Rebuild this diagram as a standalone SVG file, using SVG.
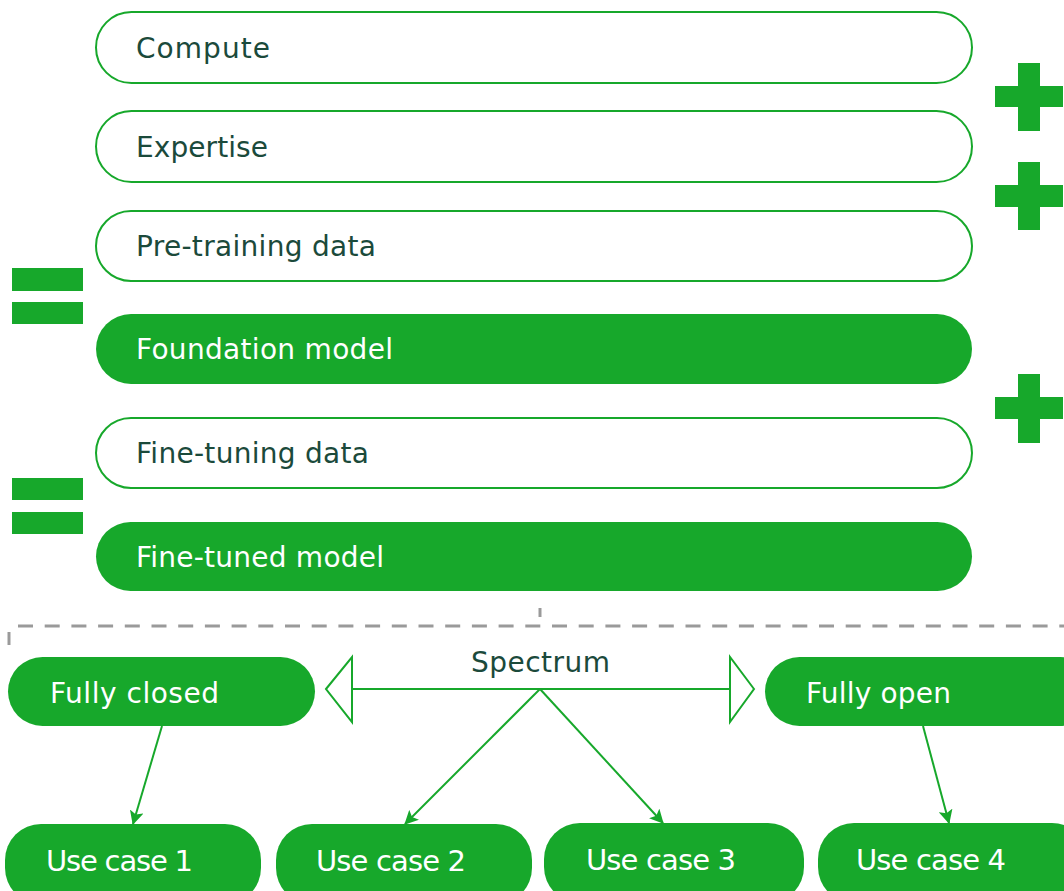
<svg xmlns="http://www.w3.org/2000/svg" width="1064" height="891" viewBox="0 0 1064 891">
  <defs>
    <style>
      .outline { fill: #ffffff; stroke: #17a82b; stroke-width: 2; }
      .solid { fill: #17a82b; }
      .lbl { font-family: "DejaVu Sans", "Liberation Sans", sans-serif; font-size: 28px; }
      .big { font-size: 29px; }
      .dark { fill: #1b4a3b; }
      .light { fill: #ffffff; }
      .conn { stroke: #17a82b; stroke-width: 2; fill: none; }
      .head { stroke: #17a82b; stroke-width: 2; fill: #ffffff; }
      .dash { stroke: #9a9a9a; stroke-width: 3; fill: none; }
      .sym { fill: #17a82b; }
    </style>
    <marker id="arrow" viewBox="0 0 14 14" refX="13" refY="7" markerWidth="14" markerHeight="14" markerUnits="userSpaceOnUse" orient="auto">
      <path d="M0,0 L14,7 L0,14 L3,7 Z" fill="#17a82b"/>
    </marker>
  </defs>

  <!-- stacked ingredients -->
  <g id="compute">
    <rect class="outline" x="96" y="12" width="876" height="71" rx="35.5"/>
    <text class="lbl dark" x="136" y="58" textLength="134" lengthAdjust="spacing">Compute</text>
  </g>
  <g id="expertise">
    <rect class="outline" x="96" y="111" width="876" height="71" rx="35.5"/>
    <text class="lbl dark" x="136" y="157" textLength="132" lengthAdjust="spacing">Expertise</text>
  </g>
  <g id="pretraining-data">
    <rect class="outline" x="96" y="211" width="876" height="70" rx="35"/>
    <text class="lbl dark" x="136" y="256" textLength="240" lengthAdjust="spacing">Pre-training data</text>
  </g>
  <g id="foundation-model">
    <rect class="solid" x="96" y="314" width="876" height="70" rx="35"/>
    <text class="lbl light" x="136" y="359" textLength="257" lengthAdjust="spacing">Foundation model</text>
  </g>
  <g id="finetuning-data">
    <rect class="outline" x="96" y="418" width="876" height="70" rx="35"/>
    <text class="lbl dark" x="136" y="463" textLength="233" lengthAdjust="spacing">Fine-tuning data</text>
  </g>
  <g id="finetuned-model">
    <rect class="solid" x="96" y="522" width="876" height="69" rx="34.5"/>
    <text class="lbl light" x="136" y="567" textLength="248" lengthAdjust="spacing">Fine-tuned model</text>
  </g>

  <!-- plus signs -->
  <g id="plus-1" class="sym">
    <rect x="1018" y="63" width="22" height="68"/>
    <rect x="995" y="86" width="68" height="21"/>
  </g>
  <g id="plus-2" class="sym">
    <rect x="1018" y="162" width="22" height="68"/>
    <rect x="995" y="185" width="68" height="22"/>
  </g>
  <g id="plus-3" class="sym">
    <rect x="1018" y="374" width="22" height="69"/>
    <rect x="995" y="397" width="68" height="22"/>
  </g>

  <!-- equals signs -->
  <g id="equals-1" class="sym">
    <rect x="12" y="268" width="71" height="23"/>
    <rect x="12" y="302" width="71" height="22"/>
  </g>
  <g id="equals-2" class="sym">
    <rect x="12" y="478" width="71" height="22"/>
    <rect x="12" y="512" width="71" height="22"/>
  </g>

  <!-- divider -->
  <g id="divider">
    <line class="dash" x1="18" y1="626" x2="1064" y2="626" stroke-dasharray="15 11.7"/>
    <line class="dash" x1="9" y1="632" x2="9" y2="645"/>
    <line class="dash" x1="540" y1="608" x2="540" y2="617"/>
  </g>

  <!-- spectrum ends -->
  <g id="fully-closed">
    <rect class="solid" x="8" y="657" width="307" height="69" rx="34.5"/>
    <text class="lbl light" x="50" y="703" textLength="169" lengthAdjust="spacing">Fully closed</text>
  </g>
  <g id="fully-open">
    <rect class="solid" x="765" y="657" width="330" height="69" rx="34.5"/>
    <text class="lbl light" x="806" y="703" textLength="145" lengthAdjust="spacing">Fully open</text>
  </g>

  <!-- use cases -->
  <g id="use-case-1">
    <rect class="solid" x="5" y="824" width="256" height="80" rx="36"/>
    <text class="lbl big light" x="46" y="871" textLength="147" lengthAdjust="spacing">Use case 1</text>
  </g>
  <g id="use-case-2">
    <rect class="solid" x="276" y="824" width="256" height="80" rx="36"/>
    <text class="lbl big light" x="316" y="871" textLength="150" lengthAdjust="spacing">Use case 2</text>
  </g>
  <g id="use-case-3">
    <rect class="solid" x="544" y="823" width="260" height="80" rx="36"/>
    <text class="lbl big light" x="586" y="870" textLength="150" lengthAdjust="spacing">Use case 3</text>
  </g>
  <g id="use-case-4">
    <rect class="solid" x="818" y="823" width="270" height="80" rx="36"/>
    <text class="lbl big light" x="856" y="870" textLength="150" lengthAdjust="spacing">Use case 4</text>
  </g>

  <!-- connectors -->
  <g id="connectors">
    <line class="conn" x1="352" y1="689" x2="730" y2="689"/>
    <polygon class="head" points="326,689 352,657 352,722"/>
    <polygon class="head" points="754,689 730,657 730,722"/>
    <text class="lbl dark" x="471" y="672" textLength="139" lengthAdjust="spacing">Spectrum</text>
    <line class="conn" x1="162" y1="726" x2="133" y2="824" marker-end="url(#arrow)"/>
    <line class="conn" x1="923" y1="726" x2="949" y2="823" marker-end="url(#arrow)"/>
    <line class="conn" x1="540" y1="689" x2="405" y2="824" marker-end="url(#arrow)"/>
    <line class="conn" x1="540" y1="689" x2="663" y2="823" marker-end="url(#arrow)"/>
  </g>
</svg>
